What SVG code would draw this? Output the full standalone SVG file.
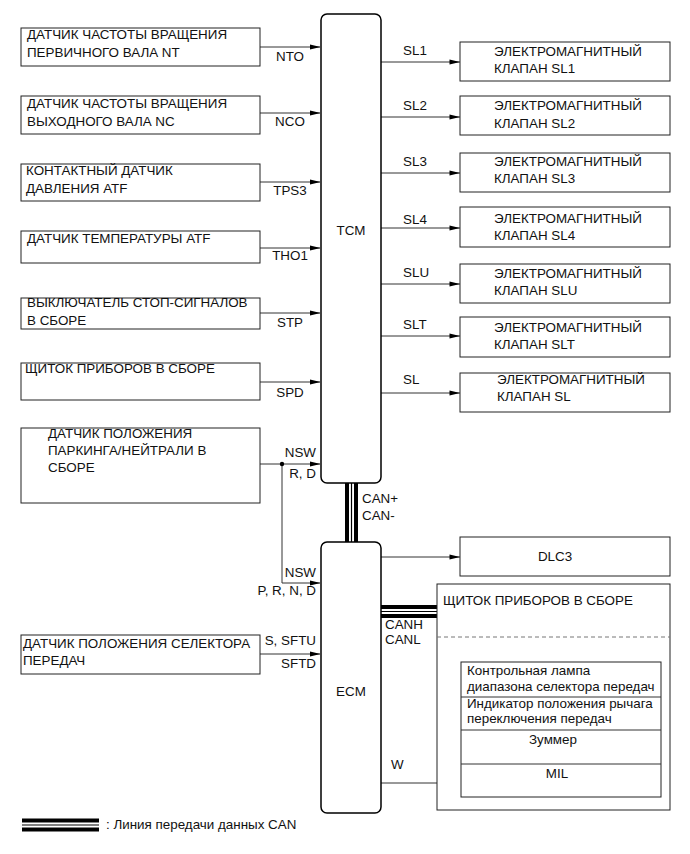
<svg xmlns="http://www.w3.org/2000/svg" xmlns:xlink="http://www.w3.org/1999/xlink" width="690" height="854" viewBox="0 0 690 854">
<style>
text{font-family:"Liberation Sans",Arial,sans-serif;font-size:13.4px;fill:#111}
.box{fill:#fff;stroke:#222;stroke-width:1}
.ecu{fill:#fff;stroke:#000;stroke-width:1.5}
.w{stroke:#333;stroke-width:1;fill:none}
.mid{text-anchor:middle}
.end{text-anchor:end}
.canb{stroke:#000;stroke-width:13;fill:none}
.canw{stroke:#fff;stroke-width:5;fill:none}
.cant{stroke:#000;stroke-width:1.2;fill:none}
.dash{stroke:#777;stroke-width:1;stroke-dasharray:4 3;fill:none}
</style>
<defs>
<path id="ah" d="M-10.5,-2.4 L0,0 L-10.5,2.4 Z" fill="#000"/>
</defs>
<rect width="690" height="854" fill="#fff"/>

<g id="connectors">
<line class="w" x1="260" y1="47" x2="320" y2="47"/>
<line class="w" x1="260" y1="113" x2="320" y2="113"/>
<line class="w" x1="260" y1="182" x2="320" y2="182"/>
<line class="w" x1="260" y1="248" x2="320" y2="248"/>
<line class="w" x1="260" y1="313" x2="320" y2="313"/>
<line class="w" x1="260" y1="382" x2="320" y2="382"/>
<line class="w" x1="260" y1="464" x2="320" y2="464"/>
<polyline class="w" points="282,464 282,583 320,583"/>
<circle cx="282" cy="464" r="2.2" fill="#000"/>
<line class="w" x1="260" y1="654" x2="320" y2="654"/>
<line class="w" x1="381" y1="62" x2="460" y2="62"/>
<line class="w" x1="381" y1="117" x2="460" y2="117"/>
<line class="w" x1="381" y1="173" x2="460" y2="173"/>
<line class="w" x1="381" y1="228" x2="460" y2="228"/>
<line class="w" x1="381" y1="284" x2="460" y2="284"/>
<line class="w" x1="381" y1="336" x2="460" y2="336"/>
<line class="w" x1="381" y1="393" x2="460" y2="393"/>
<line class="w" x1="381" y1="557" x2="460" y2="557"/>
<line class="w" x1="381" y1="783" x2="461" y2="783"/>
<use xlink:href="#ah" href="#ah" x="320.5" y="47"/>
<use xlink:href="#ah" href="#ah" x="320.5" y="113"/>
<use xlink:href="#ah" href="#ah" x="320.5" y="182"/>
<use xlink:href="#ah" href="#ah" x="320.5" y="248"/>
<use xlink:href="#ah" href="#ah" x="320.5" y="313"/>
<use xlink:href="#ah" href="#ah" x="320.5" y="382"/>
<use xlink:href="#ah" href="#ah" x="320.5" y="464"/>
<use xlink:href="#ah" href="#ah" x="320.5" y="583"/>
<use xlink:href="#ah" href="#ah" x="320.5" y="654"/>
<use xlink:href="#ah" href="#ah" x="460" y="62"/>
<use xlink:href="#ah" href="#ah" x="460" y="117"/>
<use xlink:href="#ah" href="#ah" x="460" y="173"/>
<use xlink:href="#ah" href="#ah" x="460" y="228"/>
<use xlink:href="#ah" href="#ah" x="460" y="284"/>
<use xlink:href="#ah" href="#ah" x="460" y="336"/>
<use xlink:href="#ah" href="#ah" x="460" y="393"/>
<use xlink:href="#ah" href="#ah" x="460" y="557"/>
<use xlink:href="#ah" href="#ah" x="461" y="783"/>
<line class="canb" x1="351.5" y1="483" x2="351.5" y2="542"/>
<line class="canw" x1="351.5" y1="483" x2="351.5" y2="542"/>
<line class="cant" x1="351.5" y1="483" x2="351.5" y2="542"/>
<line class="canb" x1="381" y1="611.5" x2="437" y2="611.5"/>
<line class="canw" x1="381" y1="611.5" x2="437" y2="611.5"/>
<line class="cant" x1="381" y1="611.5" x2="437" y2="611.5"/>
<text x="290" y="61" class="mid">NTO</text>
<text x="290" y="126" class="mid">NCO</text>
<text x="290" y="195" class="mid">TPS3</text>
<text x="290" y="260" class="mid">THO1</text>
<text x="290" y="327" class="mid">STP</text>
<text x="290" y="397" class="mid">SPD</text>
<text x="316" y="457" class="end">NSW</text>
<text x="316" y="478" class="end">R, D</text>
<text x="316" y="577" class="end">NSW</text>
<text x="316" y="595" class="end">P, R, N, D</text>
<text x="316" y="645" class="end">S, SFTU</text>
<text x="316" y="668" class="end">SFTD</text>
<text x="403" y="55">SL1</text>
<text x="403" y="110">SL2</text>
<text x="403" y="166">SL3</text>
<text x="403" y="224">SL4</text>
<text x="403" y="277">SLU</text>
<text x="403" y="329">SLT</text>
<text x="403" y="384">SL</text>
<text x="362" y="503">CAN+</text>
<text x="362" y="520">CAN-</text>
<text x="385" y="629">CANH</text>
<text x="385" y="644">CANL</text>
<text x="391" y="769">W</text>
</g>

<g id="tcm">
<rect class="ecu" x="321" y="14" width="60" height="469" rx="6"/>
<text x="351" y="235" class="mid">TCM</text>
</g>
<g id="ecm">
<rect class="ecu" x="321" y="542" width="60" height="271" rx="6"/>
<text x="351" y="696" class="mid">ECM</text>
</g>

<g id="nt">
<rect class="box" x="21" y="28" width="239" height="38"/>
<text x="27" y="39">ДАТЧИК ЧАСТОТЫ ВРАЩЕНИЯ</text>
<text x="27" y="57">ПЕРВИЧНОГО ВАЛА NT</text>
</g>
<g id="nc">
<rect class="box" x="21" y="96" width="239" height="38"/>
<text x="27" y="108">ДАТЧИК ЧАСТОТЫ ВРАЩЕНИЯ</text>
<text x="27" y="126">ВЫХОДНОГО ВАЛА NC</text>
</g>
<g id="tps3">
<rect class="box" x="21" y="164" width="239" height="37"/>
<text x="26" y="175">КОНТАКТНЫЙ ДАТЧИК</text>
<text x="26" y="193">ДАВЛЕНИЯ ATF</text>
</g>
<g id="tho1">
<rect class="box" x="21" y="231" width="239" height="32"/>
<text x="27" y="243">ДАТЧИК ТЕМПЕРАТУРЫ ATF</text>
</g>
<g id="stp">
<rect class="box" x="21" y="298" width="239" height="31"/>
<text x="27" y="307">ВЫКЛЮЧАТЕЛЬ СТОП-СИГНАЛОВ</text>
<text x="27" y="325">В СБОРЕ</text>
</g>
<g id="spd">
<rect class="box" x="21" y="363" width="239" height="37"/>
<text x="25" y="373">ЩИТОК ПРИБОРОВ В СБОРЕ</text>
</g>
<g id="nsw">
<rect class="box" x="21" y="428" width="239" height="75"/>
<text x="48" y="438">ДАТЧИК ПОЛОЖЕНИЯ</text>
<text x="48" y="455">ПАРКИНГА/НЕЙТРАЛИ В</text>
<text x="48" y="472">СБОРЕ</text>
</g>
<g id="selector">
<rect class="box" x="21" y="635" width="239" height="39"/>
<text x="23" y="648">ДАТЧИК ПОЛОЖЕНИЯ СЕЛЕКТОРА</text>
<text x="23" y="665">ПЕРЕДАЧ</text>
</g>

<g id="sl1">
<rect class="box" x="460" y="42" width="210" height="39"/>
<text x="494" y="56">ЭЛЕКТРОМАГНИТНЫЙ</text>
<text x="494" y="73">КЛАПАН SL1</text>
</g>
<g id="sl2">
<rect class="box" x="460" y="96" width="210" height="39"/>
<text x="494" y="110">ЭЛЕКТРОМАГНИТНЫЙ</text>
<text x="494" y="128">КЛАПАН SL2</text>
</g>
<g id="sl3">
<rect class="box" x="460" y="153" width="210" height="39"/>
<text x="494" y="166">ЭЛЕКТРОМАГНИТНЫЙ</text>
<text x="494" y="183">КЛАПАН SL3</text>
</g>
<g id="sl4">
<rect class="box" x="460" y="207" width="210" height="40"/>
<text x="494" y="223">ЭЛЕКТРОМАГНИТНЫЙ</text>
<text x="494" y="240">КЛАПАН SL4</text>
</g>
<g id="slu">
<rect class="box" x="460" y="264" width="210" height="39"/>
<text x="494" y="278">ЭЛЕКТРОМАГНИТНЫЙ</text>
<text x="494" y="295">КЛАПАН SLU</text>
</g>
<g id="slt">
<rect class="box" x="460" y="317" width="210" height="40"/>
<text x="494" y="332">ЭЛЕКТРОМАГНИТНЫЙ</text>
<text x="494" y="349">КЛАПАН SLT</text>
</g>
<g id="sl">
<rect class="box" x="460" y="373" width="210" height="39"/>
<text x="497" y="384">ЭЛЕКТРОМАГНИТНЫЙ</text>
<text x="497" y="401">КЛАПАН SL</text>
</g>
<g id="dlc3">
<rect class="box" x="460" y="537" width="210" height="39"/>
<text x="555" y="561" class="mid">DLC3</text>
</g>

<g id="combimeter">
<rect class="box" x="437" y="584" width="233" height="226"/>
<text x="443" y="605">ЩИТОК ПРИБОРОВ В СБОРЕ</text>
<line class="dash" x1="437" y1="637" x2="670" y2="637"/>
<rect class="box" x="461" y="662" width="200" height="135"/>
<line class="w" x1="461" y1="697" x2="661" y2="697"/>
<line class="w" x1="461" y1="730" x2="661" y2="730"/>
<line class="w" x1="461" y1="764" x2="661" y2="764"/>
<text x="467" y="675">Контрольная лампа</text>
<text x="467" y="691">диапазона селектора передач</text>
<text x="467" y="708">Индикатор положения рычага</text>
<text x="467" y="723">переключения передач</text>
<text x="553" y="744" class="mid">Зуммер</text>
<text x="557" y="778" class="mid">MIL</text>
</g>

<g id="legend">
<line class="canb" x1="22" y1="825" x2="99" y2="825"/>
<line class="canw" x1="22" y1="825" x2="99" y2="825"/>
<line class="cant" x1="22" y1="825" x2="99" y2="825"/>
<text x="106" y="829">: Линия передачи данных CAN</text>
</g>
</svg>
